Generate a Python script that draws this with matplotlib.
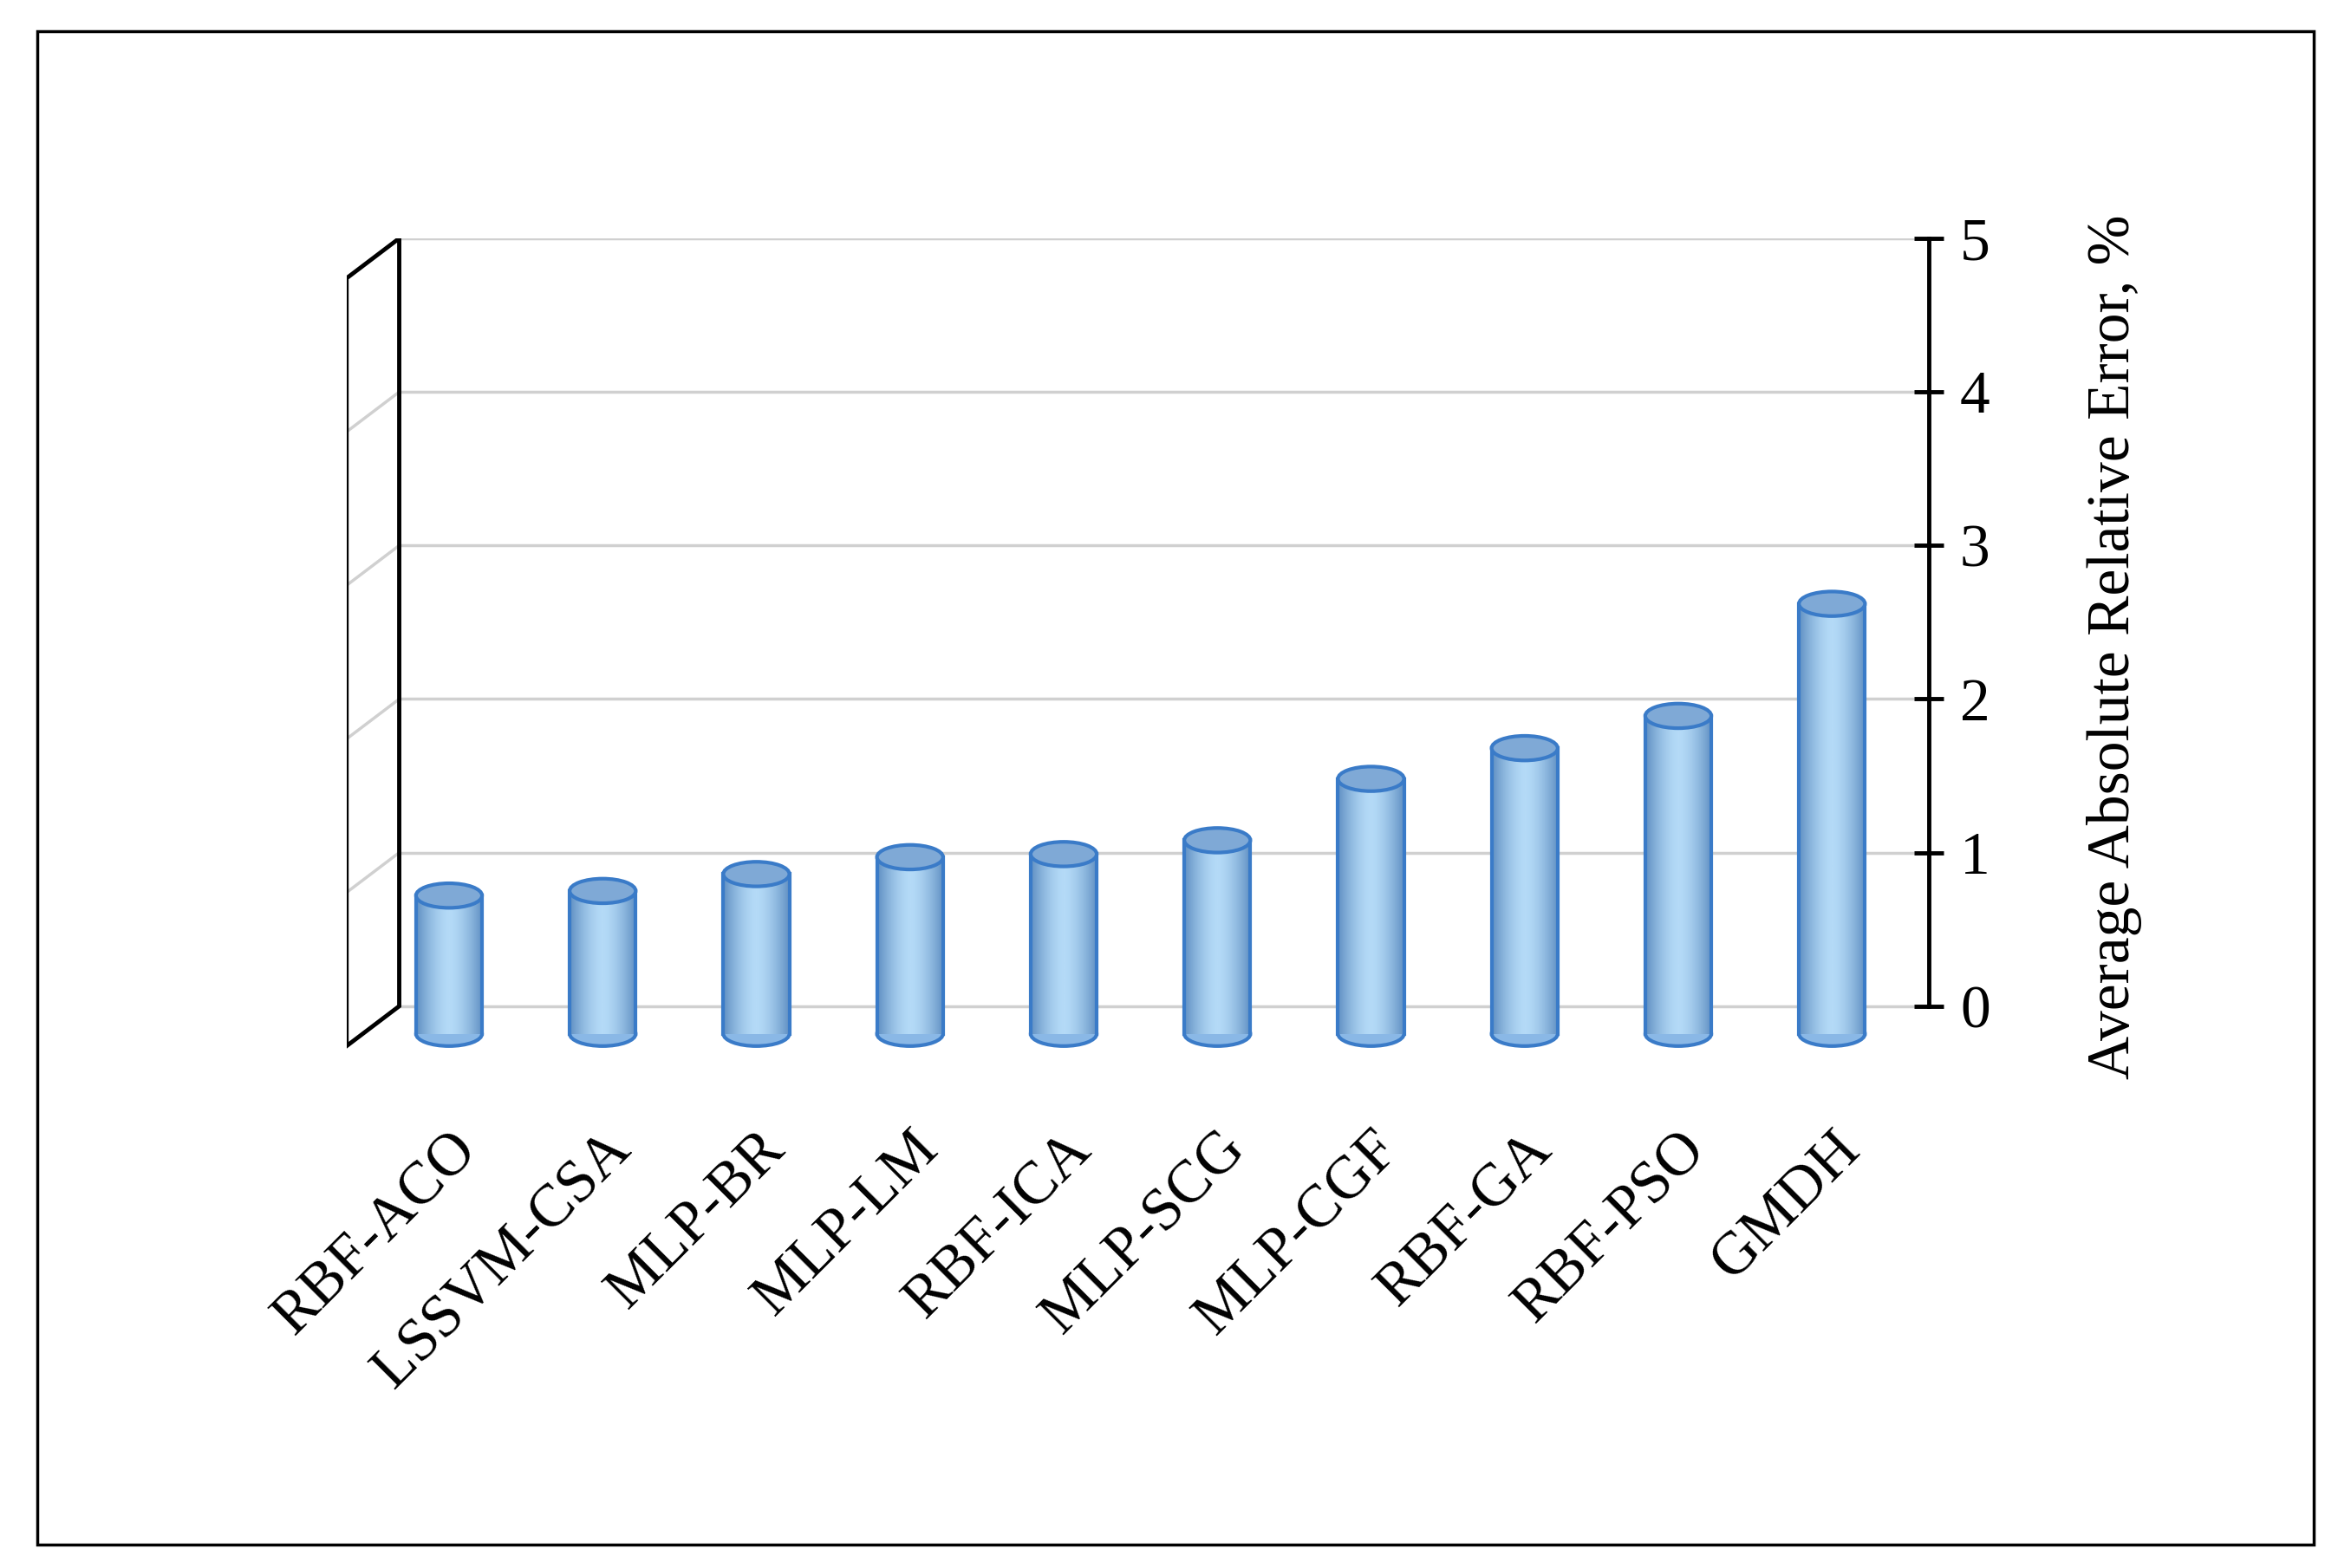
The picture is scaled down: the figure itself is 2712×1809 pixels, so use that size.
import numpy as np
import matplotlib.pyplot as plt
from matplotlib.patches import Rectangle, Ellipse, Polygon

models = ['RBF-ACO', 'LSSVM-CSA', 'MLP-BR', 'MLP-LM', 'RBF-ICA',
          'MLP-SCG', 'MLP-CGF', 'RBF-GA', 'RBF-PSO', 'GMDH']
aare = [0.72, 0.75, 0.86, 0.97, 0.99, 1.08, 1.48, 1.68, 1.89, 2.62]
yticks = [0, 1, 2, 3, 4, 5]

plt.rcParams['font.family'] = ['Liberation Serif', 'DejaVu Serif']

fig = plt.figure(figsize=(27.12, 18.09), dpi=100)
fig.patches.append(Rectangle((0.016, 0.015), 0.968, 0.965, transform=fig.transFigure,
                             fill=False, edgecolor='black', linewidth=2.5))
ax = fig.add_axes([0.1474, 0.327, 0.673, 0.521])
ax.set_xlim(-0.667, 9.63)
ax.set_ylim(-0.32, 5)

wall_x = -0.324
depth = 0.26
# gridlines: back wall + slanted on side wall
for t in yticks:
    ax.plot([wall_x, 9.63], [t, t], color='#d0d0d0', lw=2.5, zorder=1)
    ax.plot([-0.667, wall_x], [t - depth, t], color='#d0d0d0', lw=2.5, zorder=1)
# side wall outline
ax.add_patch(Polygon([(-0.667, 5 - depth), (wall_x, 5), (wall_x, 0), (-0.667, -depth)],
                     closed=True, fill=False, edgecolor='black', lw=3.5, zorder=2))

base = -0.18
w = 0.43
eh = 0.16
grad = np.abs(np.linspace(-1, 1, 200)) ** 1.6
cmap = plt.matplotlib.colors.LinearSegmentedColormap.from_list('cyl', ['#b4daf7', '#5f8fc2'])
for i, v in enumerate(aare):
    x0 = i - w / 2
    ax.add_patch(Ellipse((i, base), w, eh, facecolor='#8ab8e6', edgecolor='#3a7bc8', lw=3, zorder=3))
    im = ax.imshow(grad[None, :], cmap=cmap, aspect='auto', extent=(x0, x0 + w, base, v),
                   zorder=3.5)
    im.set_clip_path(Rectangle((x0, base), w, v - base, transform=ax.transData))
    ax.plot([x0, x0], [base, v], color='#3a7bc8', lw=3, zorder=4)
    ax.plot([x0 + w, x0 + w], [base, v], color='#3a7bc8', lw=3, zorder=4)
    ax.add_patch(Ellipse((i, v), w, eh, facecolor='#7fa9d6', edgecolor='#3a7bc8', lw=3, zorder=5))
ax.set_xlim(-0.667, 9.63)
ax.set_ylim(-0.32, 5)

for s in ['top', 'left', 'bottom']:
    ax.spines[s].set_visible(False)
ax.spines['right'].set_bounds(0, 5)
ax.spines['right'].set_linewidth(3.5)
ax.yaxis.tick_right()
ax.yaxis.set_label_position('right')
ax.set_yticks(yticks)
ax.tick_params(axis='y', direction='inout', length=24, width=3.5, labelsize=50, pad=14)
ax.set_ylabel('Average Absolute Relative Error, %', fontsize=50, labelpad=80)
ax.set_xticks(range(len(models)))
ax.set_xticklabels(models, rotation=45, ha='right', va='top', fontsize=50,
                   rotation_mode='anchor')
ax.tick_params(axis='x', length=0, pad=55)

fig.savefig('out.png', dpi=100)
